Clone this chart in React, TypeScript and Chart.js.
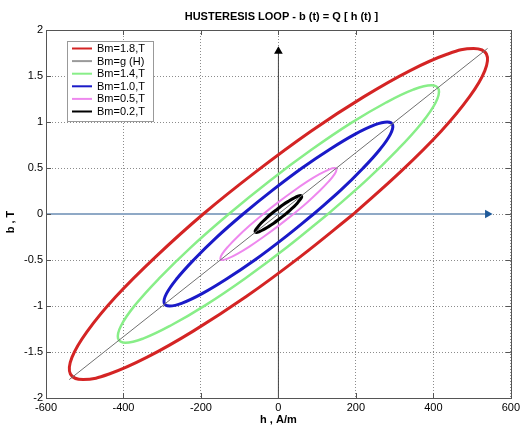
import React, { useEffect, useRef } from "react";
import { Chart, registerables } from "chart.js";
Chart.register(...registerables);

const titleText = "HUSTERESIS LOOP - b (t) = Q [ h (t) ]";
const xTitle = "h , A/m";
const yTitle = "b , T";

const xMin = -600, xMax = 600, xStep = 200;
const yMin = -2, yMax = 2, yStep = 0.5;

// Bm = 1.8 T loop
const redH = [194, 317, 420, 493, 533, 537, 504, 437, 340, 220, 84, -56, -194, -317, -420, -493, -533, -537, -504, -437, -340, -220, -84, 56, 194];
const redB = [0, 0.466, 0.9, 1.273, 1.559, 1.739, 1.8, 1.739, 1.559, 1.273, 0.9, 0.466, 0, -0.466, -0.9, -1.273, -1.559, -1.739, -1.8, -1.739, -1.559, -1.273, -0.9, -0.466, 0];
// Bm = 1.4 T loop
const greenH = [128, 226, 308, 370, 406, 414, 395, 348, 278, 188, 86, -22, -128, -226, -308, -370, -406, -414, -395, -348, -278, -188, -86, 22, 128];
const greenB = [0, 0.362, 0.7, 0.99, 1.212, 1.352, 1.4, 1.352, 1.212, 0.99, 0.7, 0.362, 0, -0.362, -0.7, -0.99, -1.212, -1.352, -1.4, -1.352, -1.212, -0.99, -0.7, -0.362, 0];
// Bm = 1.0 T loop
const blueH = [91, 161, 219, 263, 289, 295, 281, 247, 197, 134, 61, -15, -91, -161, -219, -263, -289, -295, -281, -247, -197, -134, -61, 15, 91];
const blueB = [0, 0.259, 0.5, 0.707, 0.866, 0.966, 1, 0.966, 0.866, 0.707, 0.5, 0.259, 0, -0.259, -0.5, -0.707, -0.866, -0.966, -1, -0.966, -0.866, -0.707, -0.5, -0.259, 0];
// Bm = 0.5 T loop
const pinkH = [39, 75, 106, 130, 145, 150, 145, 130, 106, 75, 39, 0, -39, -75, -106, -130, -145, -150, -145, -130, -106, -75, -39, 0, 39];
const pinkB = [0, 0.129, 0.25, 0.354, 0.433, 0.483, 0.5, 0.483, 0.433, 0.354, 0.25, 0.129, 0, -0.129, -0.25, -0.354, -0.433, -0.483, -0.5, -0.483, -0.433, -0.354, -0.25, -0.129, 0];
// Bm = 0.2 T loop
const blackH = [19, 33, 45, 53, 59, 60, 57, 50, 40, 27, 12, -3, -19, -33, -45, -53, -59, -60, -57, -50, -40, -27, -12, 3, 19];
const blackB = [0, 0.052, 0.1, 0.141, 0.173, 0.193, 0.2, 0.193, 0.173, 0.141, 0.1, 0.052, 0, -0.052, -0.1, -0.141, -0.173, -0.193, -0.2, -0.193, -0.173, -0.141, -0.1, -0.052, 0];
// b = g(H) curve
const gH = [-540, 540];
const gB = [-1.8, 1.8];
// axis arrows
const hAxisH = [-600, 540];
const hAxisB = [0, 0];
const vAxisH = [0, 0];
const vAxisB = [-2, 1.77];

const legendLabels = ["Bm=1.8,T", "Bm=g (H)", "Bm=1.4,T", "Bm=1.0,T", "Bm=0.5,T", "Bm=0.2,T"];
const legendColors = ["#d42424", "#9a9a9a", "#88ee88", "#1a1ac8", "#ee88ee", "#000000"];

const FONT = '"Liberation Sans", Arial, sans-serif';

const zip = (xs: number[], ys: number[]) => xs.map((x, i) => ({ x, y: ys[i] }));

const overlay = {
  id: "overlay",
  afterDraw(chart: any) {
    const { ctx, chartArea: a, scales } = chart;
    const xs = scales.x, ys = scales.y;
    ctx.save();
    ctx.strokeStyle = "#555";
    ctx.lineWidth = 1;
    ctx.strokeRect(Math.round(a.left) + 0.5, Math.round(a.top) + 0.5, Math.round(a.right - a.left), Math.round(a.bottom - a.top));
    ctx.beginPath();
    for (let v = xMin; v <= xMax; v += xStep) {
      const px = Math.round(xs.getPixelForValue(v)) + 0.5;
      ctx.moveTo(px, a.bottom); ctx.lineTo(px, a.bottom - 5);
      ctx.moveTo(px, a.top); ctx.lineTo(px, a.top + 5);
    }
    for (let v = yMin; v <= yMax + 1e-9; v += yStep) {
      const py = Math.round(ys.getPixelForValue(v)) + 0.5;
      ctx.moveTo(a.left, py); ctx.lineTo(a.left + 5, py);
      ctx.moveTo(a.right, py); ctx.lineTo(a.right - 5, py);
    }
    ctx.stroke();
    ctx.fillStyle = "#000";
    ctx.font = `bold 11px ${FONT}`;
    ctx.textAlign = "center";
    ctx.textBaseline = "middle";
    ctx.fillText(titleText, (a.left + a.right) / 2 + 3, 17);
    ctx.fillText(xTitle, (a.left + a.right) / 2, 420);
    ctx.save();
    ctx.translate(11, 222);
    ctx.rotate(-Math.PI / 2);
    ctx.fillText(yTitle, 0, 0);
    ctx.restore();
    const bx = 67, by = 41, bw = 86, bh = 80;
    ctx.fillStyle = "#fff";
    ctx.fillRect(bx, by, bw, bh);
    ctx.strokeStyle = "#999";
    ctx.strokeRect(bx + 0.5, by + 0.5, bw, bh);
    ctx.font = `11px ${FONT}`;
    ctx.textAlign = "left";
    legendLabels.forEach((lab, i) => {
      const y = 48.5 + i * 12.6;
      ctx.strokeStyle = legendColors[i];
      ctx.lineWidth = 2;
      ctx.beginPath();
      ctx.moveTo(72, y); ctx.lineTo(92, y);
      ctx.stroke();
      ctx.fillStyle = "#000";
      ctx.fillText(lab, 97, y + 0.5);
    });
    ctx.restore();
  },
};

export default function App() {
  const ref = useRef<HTMLCanvasElement>(null);
  useEffect(() => {
    if (!ref.current) return;
    const loop = (label: string, h: number[], b: number[], color: string, w: number) => ({
      label, data: zip(h, b), borderColor: color, backgroundColor: color, borderWidth: w,
      showLine: true, pointRadius: 0, tension: 0.4, order: 1, fill: false,
    });
    const chart = new Chart(ref.current, {
      type: "scatter",
      data: {
        datasets: [
          loop(legendLabels[0], redH, redB, legendColors[0], 3),
          { label: legendLabels[1], data: zip(gH, gB), borderColor: "#707070", borderWidth: 1, showLine: true, pointRadius: 0, order: 0 },
          loop(legendLabels[2], greenH, greenB, legendColors[2], 2.5),
          loop(legendLabels[3], blueH, blueB, legendColors[3], 3),
          loop(legendLabels[4], pinkH, pinkB, legendColors[4], 2),
          loop(legendLabels[5], blackH, blackB, legendColors[5], 3),
          { label: "haxis", data: zip(hAxisH, hAxisB), borderColor: "#8fa9c6", backgroundColor: "#1f5a9a", borderWidth: 2, showLine: true,
            pointRadius: [0, 5], pointStyle: "triangle", rotation: 90, pointBorderWidth: 0, order: 2 },
          { label: "vaxis", data: zip(vAxisH, vAxisB), borderColor: "#444", backgroundColor: "#000", borderWidth: 1, showLine: true,
            pointRadius: [0, 5], pointStyle: "triangle", rotation: 0, pointBorderWidth: 0, order: 2 },
        ] as any,
      },
      options: {
        responsive: false,
        animation: false,
        devicePixelRatio: 1,
        layout: { padding: { left: 0, top: 30, right: 11.5, bottom: 0 } },
        plugins: { legend: { display: false }, title: { display: false }, tooltip: { enabled: false } },
        scales: {
          x: {
            type: "linear", min: xMin, max: xMax,
            afterFit: (s: any) => { s.height = 28; },
            ticks: { stepSize: xStep, autoSkip: false, maxRotation: 0, color: "#000", font: { family: FONT, size: 11 }, padding: 3,
              callback: (v: any) => String(v) },
            grid: { color: "rgba(0,0,0,0.45)", drawTicks: false, lineWidth: 1 },
            border: { display: false, dash: [1, 2] },
          },
          y: {
            type: "linear", min: yMin, max: yMax,
            afterFit: (s: any) => { s.width = 46; },
            ticks: { stepSize: yStep, autoSkip: false, color: "#000", font: { family: FONT, size: 11 }, padding: 3,
              callback: (v: any) => String(v) },
            grid: { color: "rgba(0,0,0,0.45)", drawTicks: false, lineWidth: 1 },
            border: { display: false, dash: [1, 2] },
          },
        },
      } as any,
      plugins: [overlay],
    });
    return () => chart.destroy();
  }, []);
  return (
    <div style={{ position: "absolute", left: 0, top: 0, width: 523, height: 426, background: "#fff" }}>
      <canvas ref={ref} width={523} height={426} />
    </div>
  );
}
